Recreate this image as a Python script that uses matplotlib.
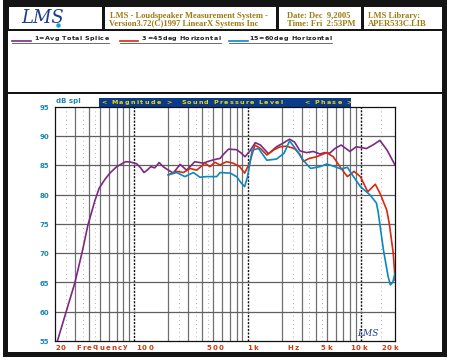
import matplotlib
matplotlib.use("Agg")
import matplotlib.pyplot as plt
from matplotlib.patches import Rectangle
import numpy as np

# ---------------- data ----------------
f_avg = [21, 25, 30, 35, 39, 45, 49, 55, 61, 70, 84, 92, 105, 114, 122, 130, 140,
         152, 166, 180, 193, 221, 254, 290, 342, 405, 466, 534, 571, 620, 680, 800,
         870, 950, 1050, 1170, 1300, 1530, 1800, 2050, 2350, 2600, 2900, 3320, 3800,
         4350, 4800, 5300, 5900, 6700, 8000, 9100, 11200, 13000, 14700, 17000, 19600, 20000]
db_avg = [55.0, 59.9, 65.0, 70.5, 74.8, 79.0, 81.1, 82.6, 83.7, 84.8, 85.65, 85.6, 85.3,
          84.6, 83.8, 84.2, 84.8, 84.6, 85.5, 84.8, 84.4, 83.7, 85.2, 84.2, 85.65, 85.4,
          85.8, 86.1, 86.2, 87.0, 87.8, 87.7, 87.2, 86.5, 87.5, 88.9, 88.5, 87.0, 88.2,
          88.8, 89.5, 89.0, 87.5, 87.2, 87.4, 86.97, 87.2, 87.1, 87.9, 88.5, 87.4, 88.2,
          87.9, 88.6, 89.3, 87.65, 85.4, 85.1]

f_45 = [200, 237, 272, 311, 356, 420, 466, 515, 571, 653, 746, 852, 943, 1040, 1160,
        1300, 1480, 1700, 1940, 2200, 2600, 2900, 3100, 3500, 4070, 5000, 5700, 6700,
        7600, 8700, 9900, 11500, 13400, 14700, 16900, 17800, 19300, 19800, 20000]
db_45 = [83.4, 84.0, 83.8, 84.5, 84.2, 85.4, 84.8, 85.55, 85.1, 85.65, 85.4, 84.8, 83.7,
         85.4, 88.5, 87.9, 86.8, 87.65, 88.2, 88.3, 87.9, 86.9, 85.7, 86.2, 86.5, 87.2,
         86.5, 84.5, 83.1, 84.0, 83.1, 80.5, 81.8, 80.3, 77.4, 75.1, 70.0, 67.0, 65.4]

f_60 = [200, 237, 280, 333, 380, 435, 534, 571, 702, 800, 880, 943, 1000, 1100, 1250,
        1480, 1800, 2100, 2350, 2700, 3100, 3600, 4350, 5000, 5700, 6700, 7600, 8400,
        9900, 12000, 13700, 14200, 15800, 17400, 18200, 19100, 20000]
db_60 = [83.4, 83.8, 83.1, 83.8, 83.0, 83.1, 83.1, 83.8, 83.7, 83.1, 82.0, 81.4, 83.1,
         87.65, 87.9, 85.9, 86.1, 87.1, 89.2, 87.65, 85.9, 84.5, 84.8, 85.25, 84.9, 84.4,
         84.7, 83.4, 81.4, 80.0, 78.6, 77.1, 70.6, 66.0, 64.6, 65.0, 66.6]

series_labels = ["1=Avg Total Splice", "3=45deg Horizontal", "15=60deg Horizontal"]
series_colors = ["#7b2a80", "#d42a12", "#0a88c0"]
y_ticks = [55, 60, 65, 70, 75, 80, 85, 90, 95]

# ---------------- figure ----------------
W, H = 450, 360
fig = plt.figure(figsize=(4.5, 3.6), dpi=100)
fig.patch.set_facecolor("white")
ov = fig.add_axes([0, 0, 1, 1])
ov.set_xlim(0, W)
ov.set_ylim(H, 0)
ov.axis("off")
ov.patch.set_visible(False)

# outer black frame
ov.add_patch(Rectangle((3, 0), 444, 357, facecolor="#141414", edgecolor="none"))
ov.add_patch(Rectangle((8, 31), 434, 321, facecolor="white", edgecolor="none"))
# header boxes
for x0, x1 in [(8.5, 101.5), (104.5, 276), (279, 360.5), (363.5, 442)]:
    ov.add_patch(Rectangle((x0, 7), x1 - x0, 22, facecolor="white", edgecolor="none"))
# separator line between legend panel and plot panel
ov.add_patch(Rectangle((8, 92), 434, 1.8, facecolor="#141414", edgecolor="none"))

gold = "#9c7c12"
hfont = dict(family="Liberation Serif", weight="bold", color=gold, fontsize=6.1)
ov.text(110, 15.5, "LMS - Loudspeaker Measurement System -", va="center", ha="left", **hfont)
ov.text(109, 24, "Version3.72(C)1997 LinearX Systems Inc", va="center", ha="left", **hfont)
ov.text(287, 15.5, "Date: Dec  9,2005", va="center", ha="left", **hfont)
ov.text(287, 24, "Time: Fri  2:53PM", va="center", ha="left", **hfont)
ov.text(368, 15.5, "LMS Library:", va="center", ha="left", **hfont)
ov.text(368, 24, "APER533C.LIB", va="center", ha="left", **hfont)
# logo
ov.text(43, 18, "LMS", family="DejaVu Serif", style="italic", fontsize=13,
        color="#1d3c8c", ha="center", va="center")
ov.plot([58], [25], marker="o", ms=2.2, color="#19a0d8")

renderer = fig.canvas.get_renderer()


def _w(s, kw):
    t = ov.text(0, 0, s, **kw)
    w = t.get_window_extent(renderer=renderer).width
    t.remove()
    return w


def spaced(x, y, s, gap, **kw):
    """draw text char by char with extra letter spacing (pixel units)"""
    base = _w("||", kw)
    cx = x
    for ch in s:
        ov.text(cx, y, ch, ha="left", va="center", **kw)
        w = _w("|" + ch + "|", kw) - base
        cx += w + gap
    return cx


# legend
lfont = dict(family="DejaVu Sans", weight="bold", fontsize=4.6, color="#222222")
leg_pos = [(12, 31, 34), (120, 138, 142), (229, 248, 249)]
for (lx0, lx1, tx), lab, col in zip(leg_pos, series_labels, series_colors):
    ov.plot([lx0, lx1], [41, 41], color=col, lw=1.2)
    ex = spaced(tx, 38.8, lab, 0.4, **lfont)
    ov.plot([lx0, ex], [42.8, 42.8], color="#555555", lw=0.6)

# blue band with title
ov.add_patch(Rectangle((99, 98), 252, 9, facecolor="#0a3a8a", edgecolor="none"))
bfont = dict(family="DejaVu Sans", weight="bold", fontsize=4.6, color="#f0d800")
spaced(101, 102.5, "< Magnitude >", 1.4, **bfont)
spaced(181, 102.5, "Sound Pressure Level", 1.25, **bfont)
spaced(304, 102.5, "< Phase >", 1.4, **bfont)

# ---------------- main axes ----------------
xl, xr, yt, yb = 55, 395, 107, 341
ax = fig.add_axes([xl / W, 1 - yb / H, (xr - xl) / W, (yb - yt) / H])
ax.set_xscale("log")
ax.set_xlim(20, 20000)
ax.set_ylim(55, 95)
ax.set_facecolor("none")
for sp in ax.spines.values():
    sp.set_color("#111111")
    sp.set_linewidth(0.9)

majors = [30, 40, 50, 60, 70, 80, 90, 200, 300, 400, 500, 600, 700, 800, 900,
          2000, 3000, 4000, 5000, 6000, 7000, 8000, 9000]
for v in majors:
    ax.axvline(v, color="#707070", lw=0.9, zorder=1)
for v in [100, 1000, 10000]:
    ax.axvline(v, color="#111111", lw=1.0, ls=(0, (1.5, 1.0)), zorder=1)
for v in [25, 35, 45, 250, 350, 450, 2500, 3500, 4500, 15000]:
    ax.axvline(v, color="#9a9a9a", lw=0.6, ls=(0, (1, 4)), zorder=1)
for v in range(60, 95, 5):
    ax.axhline(v, color="#606060", lw=0.9, zorder=1)

ax.plot(f_avg, db_avg, color=series_colors[0], lw=1.2, zorder=3)
ax.plot(f_45, db_45, color=series_colors[1], lw=1.2, zorder=4)
ax.plot(f_60, db_60, color=series_colors[2], lw=1.2, zorder=5)

ax.set_xticks([])
ax.set_yticks([])
ax.minorticks_off()

# y tick labels
blue_lab = "#1a86b8"
for v in y_ticks:
    yp = yt + (95 - v) * (yb - yt) / 40
    ov.text(49, yp + 1, str(v), ha="right", va="center", family="DejaVu Sans",
            weight="bold", fontsize=5, color=blue_lab)
ov.text(56, 101, "dB spl", ha="left", va="center", family="DejaVu Sans",
        weight="bold", fontsize=5, color=blue_lab)

# x labels
red_lab = "#cc3a10"
xfont = dict(family="DejaVu Sans", weight="bold", fontsize=5, color=red_lab)
for x0, s, g in [(55, "20", 1.2), (76, "Frequency", 1.3), (136, "100", 1.2),
                 (207, "500", 1.2), (247, "1k", 1.5), (287, "Hz", 2.0),
                 (321, "5k", 1.5), (350, "10k", 1.2), (381, "20k", 1.2)]:
    spaced(x0, 347.5, s, g, **xfont)

# small logo in plot
ov.text(368, 333, "LMS", family="DejaVu Serif", style="italic", fontsize=6.5,
        color="#1d3c8c", ha="center", va="center")

fig.savefig("out.png", dpi=100)
